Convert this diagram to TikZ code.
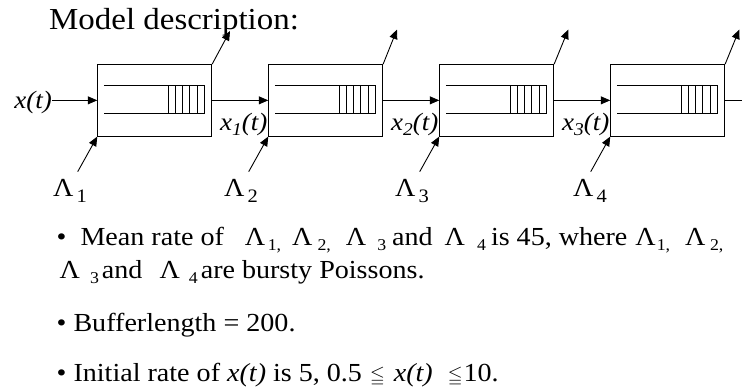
\documentclass[tikz,border=0pt]{standalone}
\usepackage{amssymb}
\usepackage{fontspec}
\setmainfont{Liberation Serif}[FakeStretch=1.08]
\usetikzlibrary{arrows.meta,calc}
\newcommand\sbx[1]{\raisebox{-5.5pt}{\fontsize{16.5}{18}\selectfont #1}}
\newcommand\smleq{{\fontsize{19}{20}\selectfont$\leqq$}}
\newcommand\isub[1]{\raisebox{-5pt}{\fontsize{18}{20}\selectfont #1}}
\begin{document}
\begin{tikzpicture}[x=1pt,y=-1pt,
  qbox/.style={draw, line width=0.9pt, minimum width=114pt, minimum height=71.5pt, inner sep=0pt},
  flow/.style={line width=0.9pt, -{Triangle[length=9.5pt,width=8pt]}},
  plain/.style={line width=0.9pt},
  bufl/.style={line width=0.7pt},
  lbl/.style={inner sep=0pt, font=\fontsize{25}{30}\selectfont\itshape},
  lam/.style={inner sep=0pt, anchor=base west, font=\fontsize{26}{30}\selectfont},
  body/.style={inner sep=0pt, anchor=base west, font=\fontsize{26}{30}\selectfont},
]
\useasboundingbox (0,0) rectangle (742,389);

\node[inner sep=0pt, anchor=base west, font=\fontsize{30.5}{34}\selectfont] (title) at (49,29.5) {Model description:};

% queue boxes
\node[qbox] (b1) at (154.7,100.35) {};
\node[qbox] (b2) at (325.7,100.35) {};
\node[qbox] (b3) at (496.7,100.35) {};
\node[qbox] (b4) at (667.7,100.35) {};

% buffers
\foreach \i in {1,...,4}{
  \draw[bufl] ($(b\i.north west)+(6.7,21.3)$) -- ++(99.9,0) -- ++(0,28.3) -- ++(-99.9,0);
  \foreach \d in {70.6,77.8,85,92.3,99.6}
    \draw[bufl] ($(b\i.north west)+(\d,21.3)$) -- ++(0,28.3);
}

% input
\node[lbl, anchor=base east] (x0) at (52,108) {x(t)};
\draw[flow] (x0.east |- b1.west) -- (b1.west);

% flows between boxes
\draw[flow] (b1.east) -- (b2.west);
\draw[flow] (b2.east) -- (b3.west);
\draw[flow] (b3.east) -- (b4.west);
\coordinate (end) at (742,100.35);
\draw[plain] (b4.east) -- (end);

\node[lbl, anchor=base east] (x1) at (267.5,130) {x\isub{1}(t)};
\node[lbl, anchor=base east] (x2) at (438.5,130) {x\isub{2}(t)};
\node[lbl, anchor=base east] (x3) at (609.5,130) {x\isub{3}(t)};

% outputs
\coordinate (o1) at (230,31);
\coordinate (o2) at (397,29.5);
\coordinate (o3) at (568.3,29.5);
\coordinate (o4) at (739.3,29.5);
\draw[flow] (b1.north east) -- (o1);
\draw[flow] (b2.north east) -- (o2);
\draw[flow] (b3.north east) -- (o3);
\draw[flow] (b4.north east) -- (o4);

% lambda inputs
\coordinate (t1) at (77.7,171.7);
\coordinate (t2) at (248.7,171.7);
\coordinate (t3) at (419.7,171.7);
\coordinate (t4) at (590.7,171.7);
\draw[flow] (t1) -- (b1.south west);
\draw[flow] (t2) -- (b2.south west);
\draw[flow] (t3) -- (b3.south west);
\draw[flow] (t4) -- (b4.south west);

\node[lam] (L1) at (53,196.7) {Λ\hspace{3pt}\raisebox{-6pt}{\fontsize{19}{20}\selectfont 1}};
\node[lam] (L2) at (224,196.7) {Λ\hspace{3pt}\raisebox{-6pt}{\fontsize{19}{20}\selectfont 2}};
\node[lam] (L3) at (395,196.7) {Λ\hspace{3pt}\raisebox{-6pt}{\fontsize{19}{20}\selectfont 3}};
\node[lam] (L4) at (573,196.7) {Λ\hspace{3pt}\raisebox{-6pt}{\fontsize{19}{20}\selectfont 4}};

% text
\node[body] (l1) at (56.5,245) {•\hspace{14pt}Mean rate of\hspace{21pt}Λ\hspace{2.5pt}\sbx{1,}\hspace{11pt}Λ\hspace{5pt}\sbx{2,}\hspace{15pt}Λ\hspace{11pt}\sbx{3}\hspace{6pt}and\hspace{12pt}Λ\hspace{12pt}\sbx{4}\hspace{5pt}is 45, where\hspace{8pt}Λ\hspace{1pt}\sbx{1,}\hspace{15pt}Λ\hspace{4.5pt}\sbx{2,}};
\node[body] (l2) at (59.5,278) {Λ\hspace{10pt}\sbx{3}\hspace{3pt}and\hspace{17pt}Λ\hspace{9pt}\sbx{4}\hspace{3pt}are bursty Poissons.};
\node[body] (l3) at (56.5,331.7) {• Bufferlength = 200.};
\node[body] (l4) at (56.5,381.7) {• Initial rate of \textit{x(t)} is 5, 0.5\hspace{8pt}\smleq\hspace{9pt}\textit{x(t)}\hspace{15pt}\smleq\hspace{1pt}10.};
\end{tikzpicture}
\end{document}
